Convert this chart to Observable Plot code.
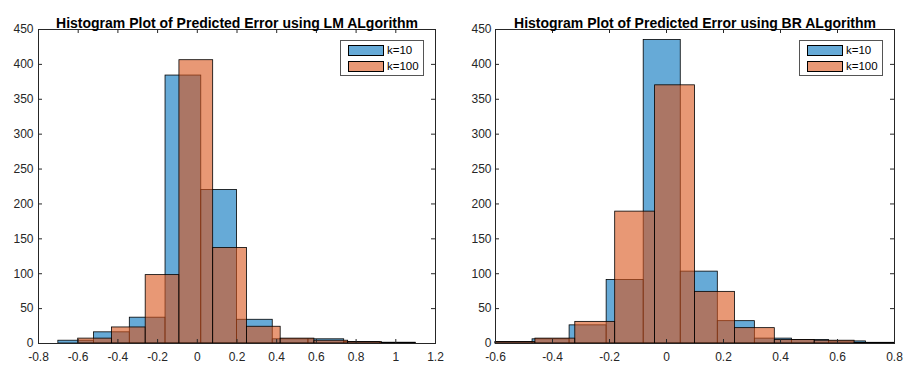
<!DOCTYPE html>
<html>
<head>
<meta charset="utf-8">
<script src="https://cdn.jsdelivr.net/npm/d3@7"></script>
<script src="https://cdn.jsdelivr.net/npm/@observablehq/plot@0.6"></script>
<style>
  body { margin: 0; background: #fff; font-family: "Liberation Sans", Arial, sans-serif; }
  #wrap { position: relative; width: 904px; height: 365px; overflow: hidden; }
  .panel { position: absolute; top: 0; }
  .legend { position: absolute; box-sizing: border-box; border: 1px solid #555; background: #fff; }
  .sw { position: absolute; box-sizing: border-box; border: 1px solid #000; width: 36px; height: 11px; }
  .lt { position: absolute; font-size: 11.5px; line-height: 11px; color: #000; white-space: nowrap; }
</style>
</head>
<body>
<div id="wrap"></div>
<script>
// ---- data ----
const titles = [
  "Histogram Plot of Predicted Error using LM ALgorithm",
  "Histogram Plot of Predicted Error using BR ALgorithm"
];
const seriesNames = ["k=10", "k=100"];

// LM algorithm
const lmK10Edges  = [-0.70, -0.52, -0.34, -0.16, 0.02, 0.20, 0.38, 0.56, 0.74, 0.92, 1.10];
const lmK10Counts = [4, 16, 37, 384, 220, 34, 6, 6, 2, 1];
const lmK100Edges  = [-0.60, -0.43, -0.26, -0.09, 0.08, 0.25, 0.42, 0.59, 0.76, 0.93, 1.10];
const lmK100Counts = [7, 23, 98, 406, 137, 24, 7, 4, 2, 1];

// BR algorithm
const brK10Edges  = [-0.60, -0.47, -0.34, -0.21, -0.08, 0.05, 0.18, 0.31, 0.44, 0.57, 0.70];
const brK10Counts = [2, 6, 26, 91, 435, 103, 32, 7, 5, 3];
const brK100Edges  = [-0.60, -0.46, -0.32, -0.18, -0.04, 0.10, 0.24, 0.38, 0.52, 0.66, 0.80];
const brK100Counts = [2, 7, 31, 189, 370, 74, 22, 5, 4, 1];

// axes
const lmXTicks = [-0.8, -0.6, -0.4, -0.2, 0, 0.2, 0.4, 0.6, 0.8, 1.0, 1.2];
const brXTicks = [-0.6, -0.4, -0.2, 0, 0.2, 0.4, 0.6, 0.8];
const yTicks = [0, 50, 100, 150, 200, 250, 300, 350, 400, 450];
const lmXDomain = [-0.8, 1.2];
const brXDomain = [-0.6, 0.8];
const yDomain = [0, 450];

// ---- drawing ----
const FONT = '"Liberation Sans", Arial, sans-serif';
const BLUE = "#0072BD", ORANGE = "#D95319";
const AXIS = "#262626";
const fmt = d => String(Math.round(d * 10) / 10);
const bins = (edges, counts) => counts.map((c, i) => ({x1: edges[i], x2: edges[i + 1], y: c}));

function panel({title, eA, cA, eB, cB, xDomain, xTicks, marginLeft, marginRight, yPad}) {
  const W = 452, H = 365, mt = 29, mb = 22;
  const iw = W - marginLeft - marginRight, ih = H - mt - mb;
  const T = 4;
  return Plot.plot({
    width: W, height: H, marginLeft, marginRight, marginTop: mt, marginBottom: mb,
    style: {fontFamily: FONT, fontSize: "12px", color: AXIS, background: "transparent", overflow: "visible"},
    x: {domain: xDomain},
    y: {domain: yDomain},
    marks: [
      Plot.rect(bins(eA, cA), {x1: "x1", x2: "x2", y1: 0, y2: "y", fill: BLUE, fillOpacity: 0.6, stroke: "#000", strokeWidth: 0.8}),
      Plot.rect(bins(eB, cB), {x1: "x1", x2: "x2", y1: 0, y2: "y", fill: ORANGE, fillOpacity: 0.6, stroke: "#000", strokeWidth: 0.8}),
      Plot.frame({stroke: AXIS, strokeWidth: 1}),
      Plot.ruleX(xTicks, {x: d => d, insetTop: ih - T, stroke: AXIS}),
      Plot.ruleX(xTicks, {x: d => d, insetBottom: ih - T, stroke: AXIS}),
      Plot.ruleY(yTicks, {y: d => d, insetRight: iw - T, stroke: AXIS}),
      Plot.ruleY(yTicks, {y: d => d, insetLeft: iw - T, stroke: AXIS}),
      Plot.axisX(xTicks, {tickSize: 0, tickPadding: 9, tickFormat: fmt, label: null, fill: AXIS}),
      Plot.axisY(yTicks, {tickSize: 0, tickPadding: yPad, label: null, fill: AXIS}),
      Plot.text([title], {frameAnchor: "top", dy: -11, fontWeight: "bold", fontSize: 14, fill: "#000", fontFamily: FONT})
    ]
  });
}

const wrap = document.getElementById("wrap");

const left = panel({title: titles[0], eA: lmK10Edges, cA: lmK10Counts, eB: lmK100Edges, cB: lmK100Counts,
  xDomain: lmXDomain, xTicks: lmXTicks, marginLeft: 38, marginRight: 17, yPad: 5});
left.classList.add("panel"); left.style.left = "0px";
wrap.appendChild(left);

const right = panel({title: titles[1], eA: brK10Edges, cA: brK10Counts, eB: brK100Edges, cB: brK100Counts,
  xDomain: brXDomain, xTicks: brXTicks, marginLeft: 43, marginRight: 10, yPad: 4});
right.classList.add("panel"); right.style.left = "452px";
wrap.appendChild(right);

// legends
const swatchFills = ["rgba(0,114,189,0.6)", "rgba(217,83,25,0.6)"];
function legend(x, y) {
  const box = document.createElement("div");
  box.className = "legend";
  Object.assign(box.style, {left: x + "px", top: y + "px", width: "84px", height: "36px"});
  seriesNames.forEach((name, i) => {
    const sw = document.createElement("div");
    sw.className = "sw";
    Object.assign(sw.style, {left: "7px", top: (4 + i * 16) + "px", background: swatchFills[i]});
    box.appendChild(sw);
    const t = document.createElement("div");
    t.className = "lt";
    t.textContent = name;
    Object.assign(t.style, {left: "46px", top: (4 + i * 16) + "px"});
    box.appendChild(t);
  });
  wrap.appendChild(box);
}
legend(340, 40);
legend(799, 40);
</script>
</body>
</html>
